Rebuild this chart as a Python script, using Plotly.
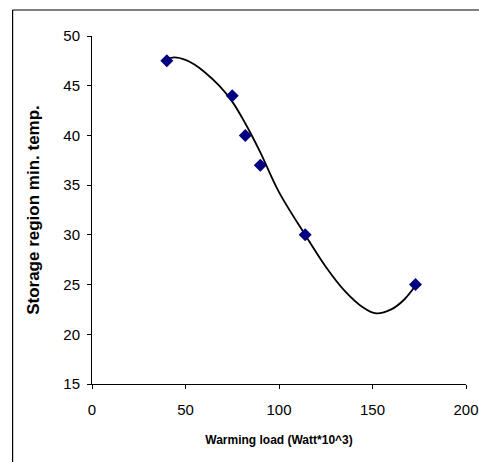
import plotly.graph_objects as go

# measured points
load = [40, 75, 82, 90, 114, 173]
temp = [47.5, 44, 40, 37, 30, 25]

# trendline (poly. order 3)
trend_x = [40, 44, 50, 55, 60, 68, 75, 82, 90, 100, 114, 125, 135, 145, 152, 160, 167, 173]
trend_y = [47.65, 47.85, 47.6, 47.1, 46.4, 45.0, 43.4, 41.2, 38.3, 34.3, 30.0, 26.8, 24.4, 22.7, 22.1, 22.5, 23.5, 24.9]

fig = go.Figure()
fig.add_trace(go.Scatter(x=trend_x, y=trend_y, mode="lines", line=dict(color="black", width=1.8, shape="spline"),
                         hoverinfo="skip"))
fig.add_trace(go.Scatter(x=load, y=temp, mode="markers",
                         marker=dict(symbol="diamond", color="#000080", size=10)))

tick_font = dict(family="Liberation Sans Narrow, Arial Narrow, Liberation Sans", size=15, color="black")
axis = dict(showline=True, linecolor="black", linewidth=1, ticks="outside", ticklen=4,
            tickcolor="black", showgrid=False, zeroline=False, tickfont=tick_font, automargin=False)

fig.update_layout(
    width=479, height=462, showlegend=False,
    paper_bgcolor="white", plot_bgcolor="white",
    margin=dict(l=91.5, r=13, t=36, b=78),
    xaxis=dict(axis, range=[0, 200], dtick=50, ticklabelstandoff=8,
               title=dict(text="<b>Warming load (Watt*10^3)</b>", standoff=18,
                          font=dict(family="Liberation Sans Narrow, Arial Narrow, Liberation Sans", size=12, color="black"))),
    yaxis=dict(axis, range=[15, 50], dtick=5, ticklabelstandoff=4,
               title=dict(text="<b>Storage region min. temp.</b>", standoff=19,
                          font=dict(family="Liberation Sans, Arial", size=17, color="black"))),
    shapes=[
        # chart frame: only the top and left edges fall inside the window
        dict(type="line", xref="paper", yref="paper", x0=-0.2123, x1=1.2, y0=1.0747, y1=1.0747,
             line=dict(color="black", width=1.2)),
        dict(type="line", xref="paper", yref="paper", x0=-0.2123, x1=-0.2123, y0=-0.4, y1=1.0747,
             line=dict(color="black", width=1.2)),
    ],
)

# drop the page's default body margin so the figure fills the window
fig.write_html("out.html", config={"displayModeBar": False},
               post_script="document.body.style.margin='0';document.body.style.overflow='hidden';")
